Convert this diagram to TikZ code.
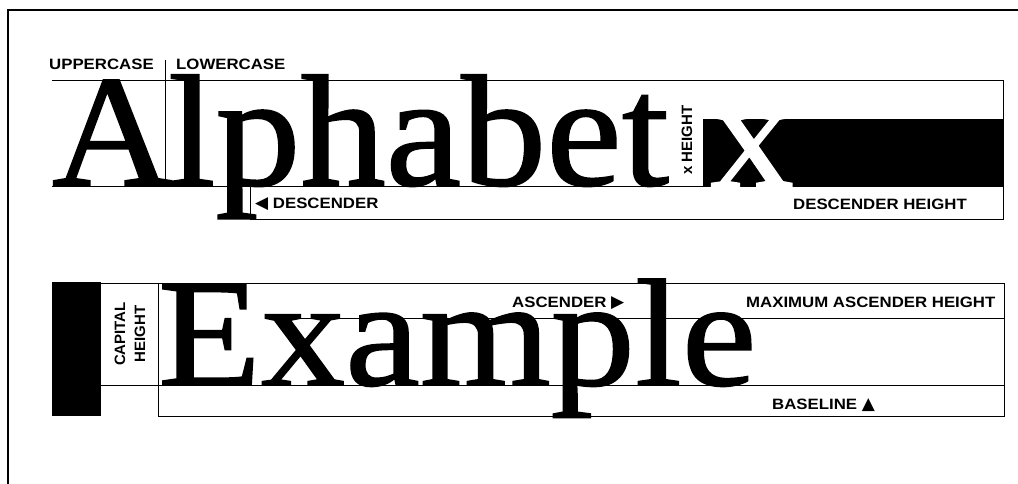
\documentclass[tikz,border=0pt]{standalone}
\usepackage{fontspec}
\setmainfont{Liberation Sans}
\newfontfamily\typeface[FakeStretch=1.05,FakeBold=1.1]{Liberation Serif}
\newfontfamily\typefacemid[FakeStretch=1.07,FakeBold=1.1]{Liberation Serif}
\newfontfamily\typefacewide[FakeStretch=1.10,FakeBold=1.1]{Liberation Serif}
\newfontfamily\tagfont[FakeStretch=1.12]{Liberation Sans}
\newfontfamily\symbolfont{DejaVu Sans}
\usetikzlibrary{positioning}
\tikzset{rule/.style={draw,line width=0.9pt},
    frame/.style={draw,line width=1.3pt},
    tag/.style={font=\tagfont\bfseries\fontsize{15}{17}\selectfont,
        inner sep=0pt,anchor=base west},
    vtag/.style={font=\bfseries\fontsize{15}{20}\selectfont,
        inner sep=0pt,rotate=90,align=center},
    glyph/.style={font=\typeface\fontsize{159}{159}\selectfont,
        inner sep=0pt,anchor=base west},
    mid glyph/.style={glyph,font=\typefacemid\fontsize{159}{159}\selectfont},
    wide glyph/.style={glyph,font=\typefacewide\fontsize{153}{153}\selectfont}}
\newcommand{\tri}[1]{{\symbolfont\fontsize{17}{17}\selectfont #1}}

\begin{document}
\begin{tikzpicture}[x=1pt,y=-1pt]
    \useasboundingbox (0,0) rectangle (1018,484);
    % Frame
    \draw[frame] (1018,10) -- (8,10) -- (8,484);

    % Top panel: guide lines
    \draw[rule] (52,80) -- (1003,80) -- (1003,219) -- (250,219) -- (250,186);
    \draw[rule] (52,186) -- (1003,186);
    \draw[rule] (165,60) -- (165,186);
    \fill (703,119) rectangle (1003,187);

    % Top panel: letters
    \node[glyph] (capA) at (52,185) {A};
    \node[mid glyph] (lower) at (168,185) {lphabet};
    \node[glyph,text=white] (xknock) at (710,187) {x};

    % Top panel: labels
    \node[tag] (upper) at (49,70) {UPPERCASE};
    \node[tag] (lowercase) at (176,70) {LOWERCASE};
    \node[tag] (desc) at (255,208) {\tri{◀}\ DESCENDER};
    \node[tag] (descht) at (793,209) {DESCENDER HEIGHT};
    \node[vtag] (xht) at (687,140) {x HEIGHT};

    % Bottom panel: guide lines
    \fill (52,282) rectangle (101,416);
    \draw[rule] (101,283) -- (1004,283) -- (1004,416) -- (158,416) -- (158,283);
    \draw[rule] (290,318) -- (1004,318);
    \draw[rule] (101,385) -- (1004,385);

    % Bottom panel: letters
    \node[wide glyph] (word) at (158,385) {Example};

    % Bottom panel: labels
    \node[vtag] (capht) at (130,334) {CAPITAL\\HEIGHT};
    \node[tag] (asc) at (512,307) {ASCENDER\ \tri{▶}};
    \node[tag] (maxasc) at (746,307) {MAXIMUM ASCENDER HEIGHT};
    \node[tag] (base) at (772,409) {BASELINE\ \tri{▲}};
\end{tikzpicture}
\end{document}
